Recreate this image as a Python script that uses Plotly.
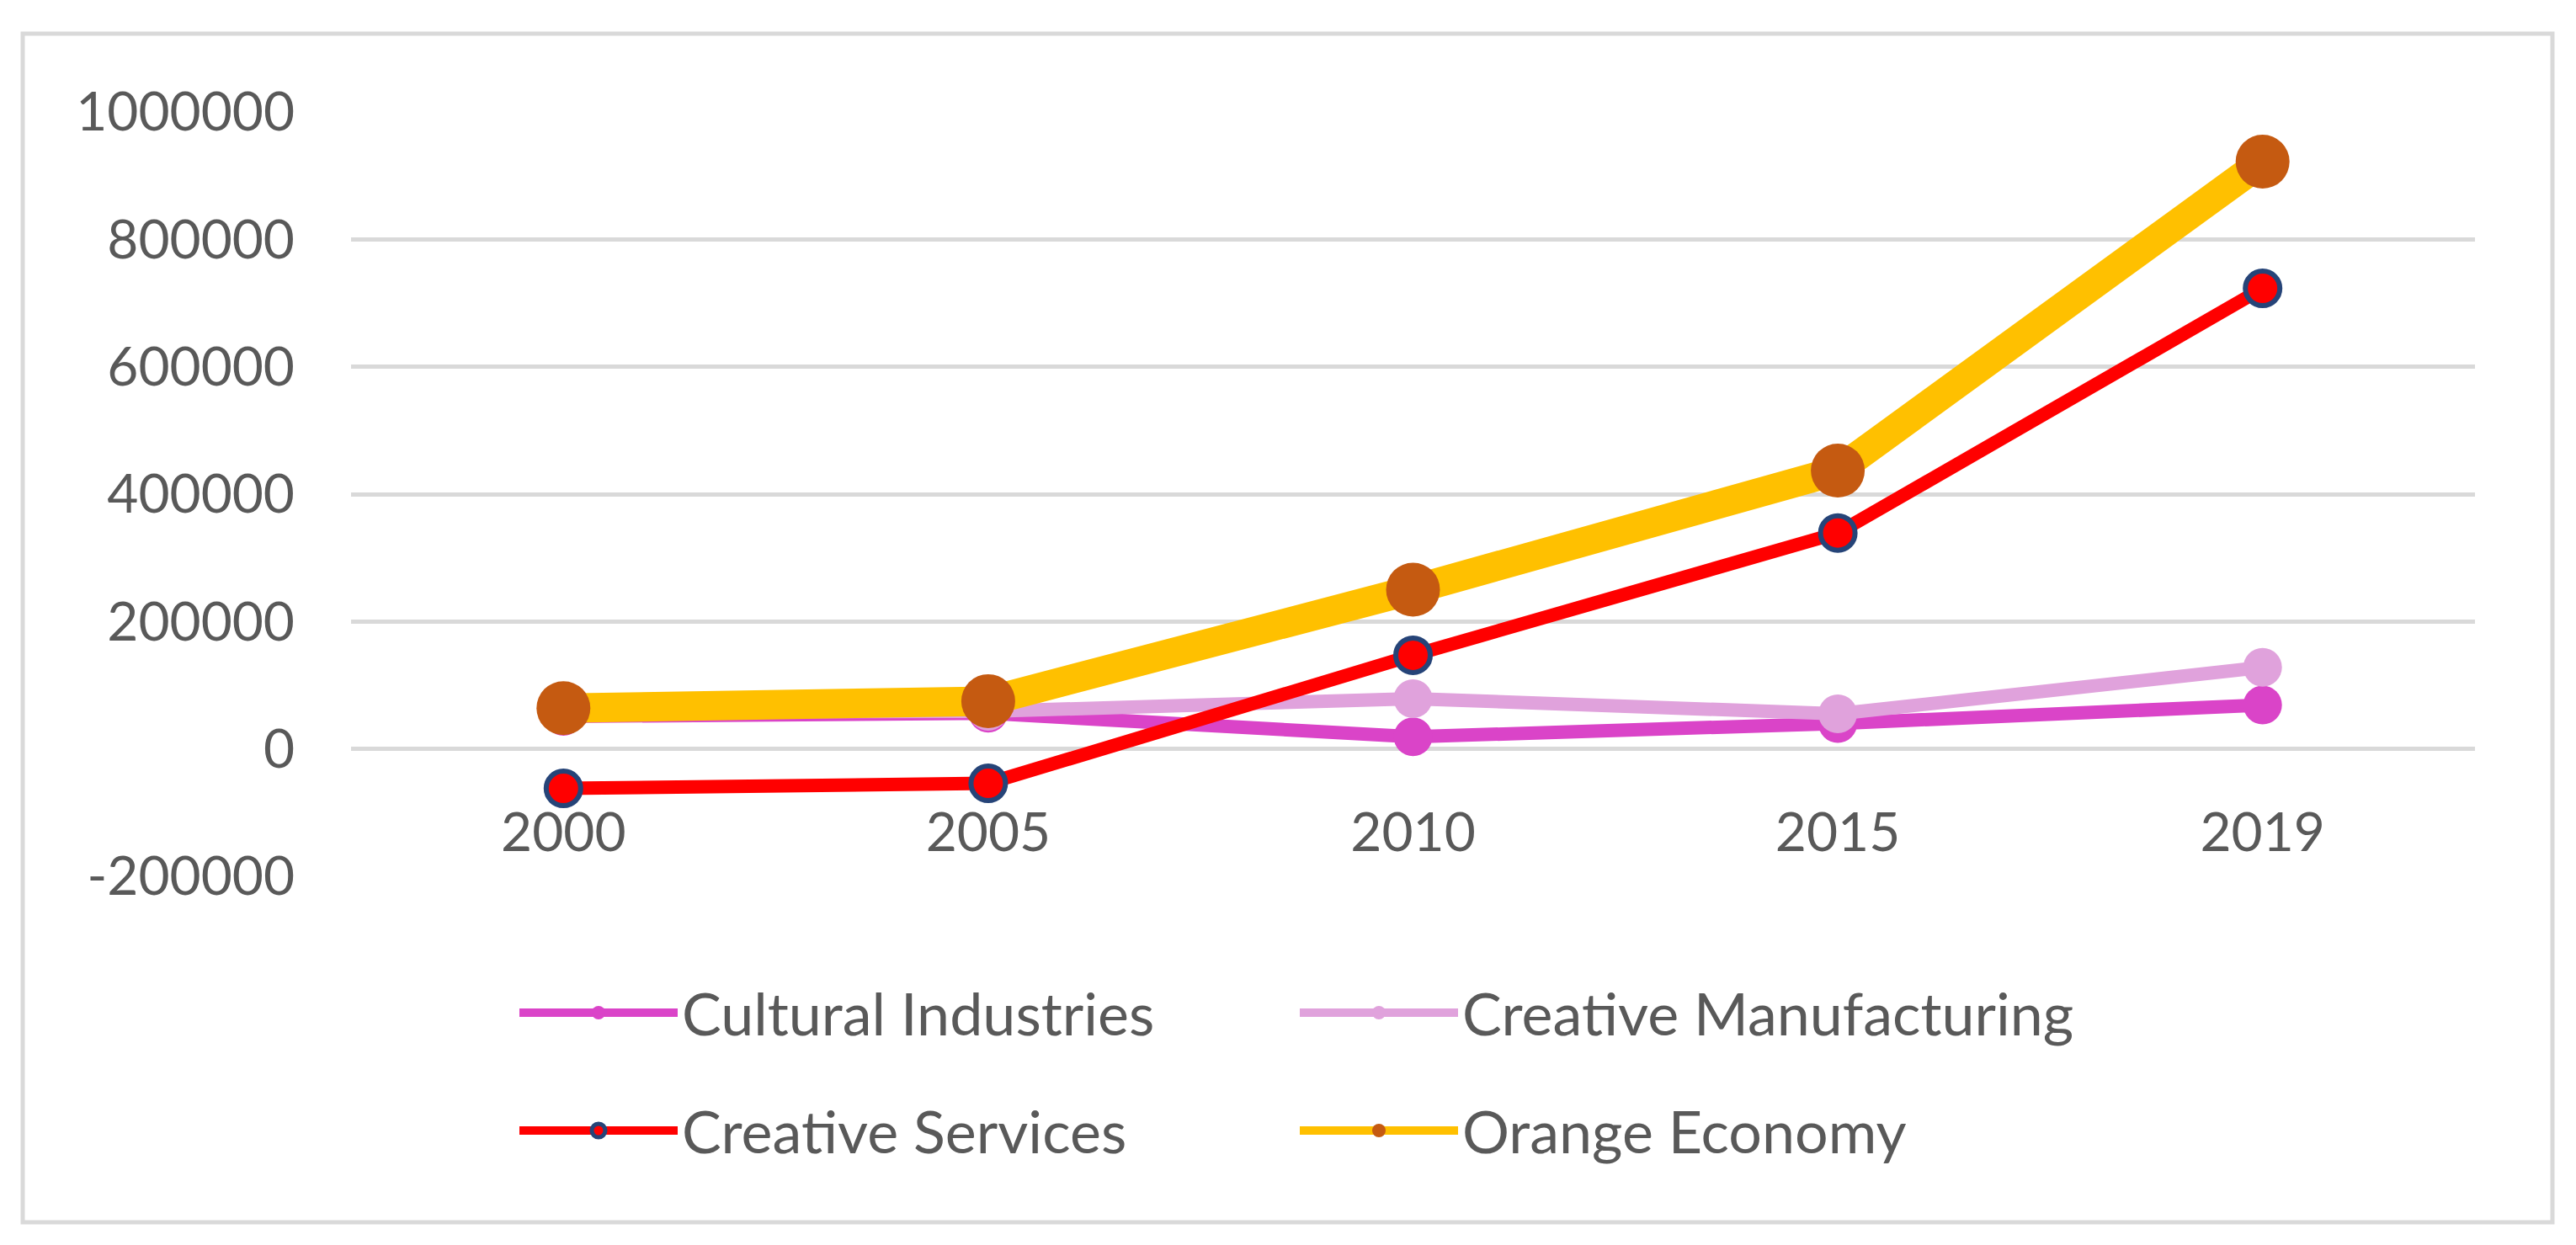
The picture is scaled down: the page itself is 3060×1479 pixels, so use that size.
import plotly.graph_objects as go

# ---- data ----
years = ["2000", "2005", "2010", "2015", "2019"]
cultural_industries = [51000, 56000, 19000, 40000, 69000]
creative_manufacturing = [58000, 59000, 79000, 55000, 128000]
creative_services = [-62000, -54000, 147000, 339000, 723000]
orange_economy = [64000, 75000, 250000, 437000, 922000]

y_tick_vals = [-200000, 0, 200000, 400000, 600000, 800000, 1000000]
y_tick_text = ["-200000", "0", "200000", "400000", "600000", "800000", "1000000"]

# ---- layout geometry (screen pixels; the page body has an 8px margin) ----
OFF = 8
SCREEN_W, SCREEN_H = 3060, 1479
W, H = SCREEN_W - OFF, SCREEN_H - OFF
plot_left, plot_right, plot_top, plot_bottom = 417, 2940, 133, 1041
L = plot_left - OFF
R = W - (plot_right - OFF)
T = plot_top - OFF
B = H - (plot_bottom - OFF)
pw, ph = W - L - R, H - T - B

def px_x(p):
    return (p - OFF - L) / pw

def px_y(p):
    return (H - B - (p - OFF)) / ph

FONT = "Lato, 'Open Sans', sans-serif"
TXT = "#595959"
GRID = "#d9d9d9"

fig = go.Figure()

fig.add_trace(go.Scatter(
    x=years, y=cultural_industries, name="Cultural Industries",
    mode="lines+markers", legend="legend",
    line=dict(color="#DA44C8", width=16),
    marker=dict(color="#DA44C8", size=46, line=dict(width=0)),
))
fig.add_trace(go.Scatter(
    x=years, y=creative_manufacturing, name="Creative Manufacturing",
    mode="lines+markers", legend="legend",
    line=dict(color="#E0A2DC", width=16),
    marker=dict(color="#E0A2DC", size=46, line=dict(width=0)),
))
fig.add_trace(go.Scatter(
    x=years, y=creative_services, name="Creative Services",
    mode="lines+markers", legend="legend2",
    line=dict(color="#FF0000", width=16),
    marker=dict(color="#FF0000", size=41, line=dict(color="#264478", width=6)),
))
fig.add_trace(go.Scatter(
    x=years, y=orange_economy, name="Orange Economy",
    mode="lines+markers", legend="legend2",
    line=dict(color="#FFC000", width=35),
    marker=dict(color="#C55A11", size=64, line=dict(width=0)),
))

legend_common = dict(
    orientation="h", xanchor="left", yanchor="middle",
    font=dict(family=FONT, size=70, color=TXT),
    itemwidth=188, entrywidth=724, entrywidthmode="pixels",
    bgcolor="rgba(0,0,0,0)", borderwidth=0,
    traceorder="normal",
)

fig.update_layout(
    width=W, height=H,
    margin=dict(l=L, r=R, t=T, b=B, autoexpand=False),
    paper_bgcolor="white", plot_bgcolor="white",
    font=dict(family=FONT, color=TXT),
    showlegend=True,
    legend=dict(x=px_x(612), y=px_y(1203), **legend_common),
    legend2=dict(x=px_x(612), y=px_y(1343), **legend_common),
    xaxis=dict(
        type="category", categoryorder="array", categoryarray=years,
        range=[-0.5, len(years) - 0.5],
        anchor="free", position=(0 - y_tick_vals[0]) / (y_tick_vals[-1] - y_tick_vals[0]),
        showgrid=False, showline=False, zeroline=False, ticks="",
        tickfont=dict(family=FONT, size=64, color=TXT),
        ticklabelstandoff=56,
    ),
    yaxis=dict(
        range=[y_tick_vals[0], y_tick_vals[-1]],
        tickvals=y_tick_vals, ticktext=y_tick_text,
        showgrid=True, gridcolor=GRID, gridwidth=5,
        zeroline=False, showline=False, ticks="",
        tickfont=dict(family=FONT, size=64, color=TXT),
        ticklabelstandoff=66,
    ),
    shapes=[dict(
        type="rect", xref="paper", yref="paper", layer="below",
        x0=px_x(27), x1=px_x(3032), y0=px_y(1452), y1=px_y(40),
        line=dict(color=GRID, width=5), fillcolor="rgba(0,0,0,0)",
    )],
)

fig.write_html("out.html")
